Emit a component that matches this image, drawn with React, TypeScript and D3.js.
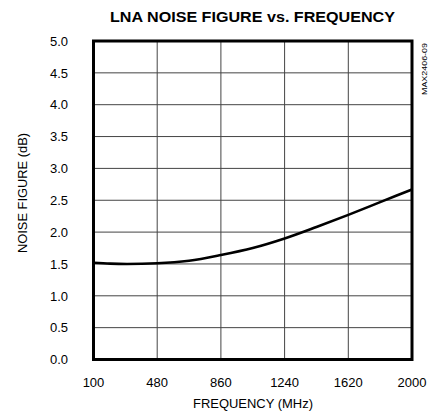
import React from "react";
import * as d3 from "d3";

const freqMHz = [100, 200, 300, 480, 670, 860, 1050, 1240, 1430, 1620, 1810, 2000];
const noiseFigure = [1.52, 1.505, 1.5, 1.51, 1.55, 1.64, 1.75, 1.9, 2.08, 2.27, 2.47, 2.67];
const xTicks = [100, 480, 860, 1240, 1620, 2000];
const yTicks = [0, 0.5, 1.0, 1.5, 2.0, 2.5, 3.0, 3.5, 4.0, 4.5, 5.0];

const W = 434;
const H = 419;
const left = 93.5;
const right = 412;
const top = 41;
const bottom = 359.5;
const font = "'Liberation Sans', Arial, Helvetica, sans-serif";

export default function App() {
  const x = d3.scaleLinear().domain([100, 2000]).range([left, right]);
  const y = d3.scaleLinear().domain([0, 5]).range([bottom, top]);
  const line = d3
    .line<number>()
    .x((_, i) => x(freqMHz[i]))
    .y((d) => y(d))
    .curve(d3.curveMonotoneX);

  return (
    <svg width={W} height={H} style={{ position: "absolute", left: 0, top: 0, background: "#fff" }}>
      <rect x={0} y={0} width={W} height={H} fill="#fff" />
      <text x={252.5} y={21.5} textAnchor="middle" fontFamily={font} fontWeight="bold" fontSize={15} textLength={285} lengthAdjust="spacingAndGlyphs">
        LNA NOISE FIGURE vs.  FREQUENCY
      </text>
      {xTicks.slice(1, -1).map((t) => (
        <line key={"gx" + t} x1={x(t)} x2={x(t)} y1={top} y2={bottom} stroke="#444" strokeWidth={1} />
      ))}
      {yTicks.slice(1, -1).map((t) => (
        <line key={"gy" + t} x1={left} x2={right} y1={y(t)} y2={y(t)} stroke="#444" strokeWidth={1} />
      ))}
      <path d={line(noiseFigure) || ""} fill="none" stroke="#000" strokeWidth={2.6} />
      <rect x={left} y={top} width={right - left} height={bottom - top} fill="none" stroke="#000" strokeWidth={3} />
      {yTicks.map((t) => (
        <text key={"yl" + t} x={68} y={y(t) + 4.7} textAnchor="end" fontFamily={font} fontSize={13} fill="#000">
          {t.toFixed(1)}
        </text>
      ))}
      {xTicks.map((t) => (
        <text key={"xl" + t} x={x(t)} y={387} textAnchor="middle" fontFamily={font} fontSize={13} fill="#000">
          {t}
        </text>
      ))}
      <text x={253} y={407.5} textAnchor="middle" fontFamily={font} fontSize={13} fill="#000" textLength={120} lengthAdjust="spacingAndGlyphs">
        FREQUENCY (MHz)
      </text>
      <text transform="translate(26.7,193) rotate(-90)" textAnchor="middle" fontFamily={font} fontSize={13} fill="#000" textLength={120} lengthAdjust="spacingAndGlyphs">
        NOISE FIGURE (dB)
      </text>
      <text transform="translate(427,69) rotate(-90)" textAnchor="middle" fontFamily={font} fontSize={8} fill="#000" textLength={52} lengthAdjust="spacingAndGlyphs">
        MAX2406-09
      </text>
    </svg>
  );
}
